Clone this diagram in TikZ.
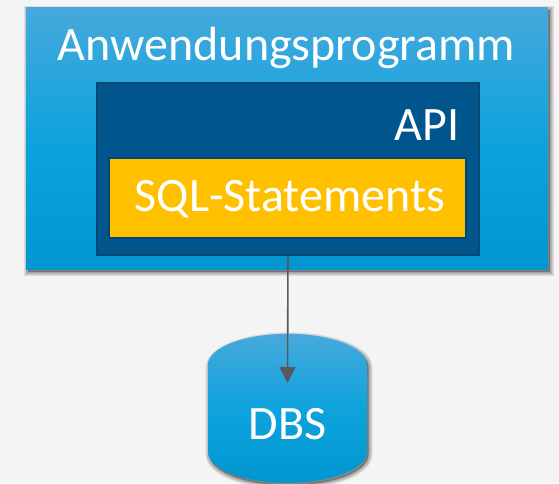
\documentclass[tikz,border=0pt]{standalone}
\usepackage{fontspec}
\setmainfont{Carlito}
\usetikzlibrary{arrows.meta,shapes.geometric}
\definecolor{pagebg}{HTML}{F4F4F4}
\definecolor{blueTop}{HTML}{46A9DC}
\definecolor{blueMid}{HTML}{0FA3DD}
\definecolor{blueLow}{HTML}{0096CF}
\definecolor{apiBlue}{HTML}{00558C}
\definecolor{apiEdge}{HTML}{004673}
\definecolor{sqlGold}{HTML}{FFC000}
\definecolor{arrowGrey}{HTML}{5A5A5C}
\tikzstyle{label} = [text=white, font=\fontsize{48}{48}\selectfont, inner sep=0pt]
\tikzstyle{softedge} = [transform canvas={xshift=1.5pt,yshift=-2.5pt}, draw=black, draw opacity=.09]
\tikzstyle{softfill} = [transform canvas={xshift=1.5pt,yshift=-2.5pt}, fill=black, fill opacity=.3]
\tikzstyle{layer} = [rectangle, draw=none, inner sep=0pt, top color=blueTop, bottom color=blueLow, middle color=blueMid,
  preaction={softedge, line width=8pt}, preaction={softedge, line width=6pt}, preaction={softedge, line width=4pt}, preaction={softedge, line width=2pt}, preaction={softfill}]
\tikzstyle{inner} = [rectangle, inner sep=0pt, line width=2pt]

\begin{document}
\begin{tikzpicture}[x=1pt,y=1pt]
  \useasboundingbox[fill=pagebg] (0,0) rectangle (559,-483);

  \node[layer, minimum width=522pt, minimum height=262pt] (App) at (287,-138) {};
  \node[inner, draw=apiEdge, fill=apiBlue, minimum width=382pt, minimum height=172pt] (API) at (288,-169) {};
  \node[inner, draw=apiEdge, fill=sqlGold, minimum width=357pt, minimum height=80pt] (SQL) at (287.5,-198) {};

  \node[label] (AppText) at (286.5,-48) {Anwendungsprogramm};
  \node[label] (APIText) at (427,-125) {API};
  \node[label] (SQLText) at (290,-199) {SQL-Statements};

  \node[layer, cylinder, shape border rotate=90, aspect=0.8, minimum width=159pt, minimum height=149pt, label, text=white] (DBS) at (287.5,-424) {\raisebox{-4pt}{DBS}};
  \coordinate (DBSin) at (287.5,-383);

  \draw[arrowGrey, line width=1.6pt, -{Triangle[width=16pt,length=16pt]}] (API.south) -- (DBSin);
\end{tikzpicture}
\end{document}
